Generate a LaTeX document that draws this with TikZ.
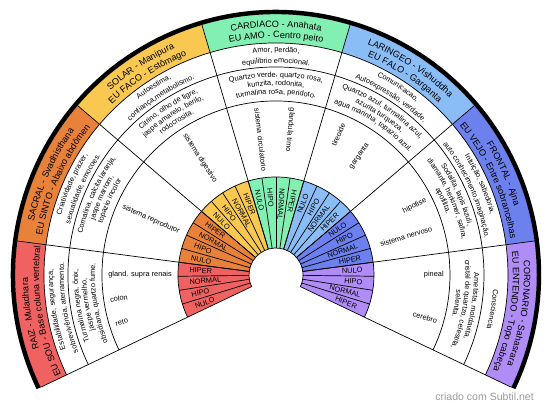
\documentclass[tikz,border=0pt]{standalone}
\usepackage{fontspec}
\setmainfont{Liberation Sans}
\usepackage{tikz}
\usetikzlibrary{decorations.text}
\definecolor{RaizRed}{HTML}{F06262}
\definecolor{SacralOrange}{HTML}{E8823A}
\definecolor{SolarYellow}{HTML}{F8C850}
\definecolor{CardiacoGreen}{HTML}{82F0B2}
\definecolor{LaringeoBlue}{HTML}{8ABCF6}
\definecolor{FrontalBlue}{HTML}{6C80EE}
\definecolor{CoronarioLilac}{HTML}{B08CF6}
\definecolor{FooterGray}{HTML}{9A9A9A}
\newcommand\bandfont{\fontsize{7.8}{9}\selectfont}
\newcommand\smallfont{\fontsize{6.3}{7}\selectfont}
% centre angle, baseline radius, font, text
\newcommand\arcline[4]{\path[decorate, decoration={text along path, text align=center, text={|#3|#4}}]
  (#1+25:#2) arc[start angle=#1+25, end angle=#1-25, radius=#2];}
\tikzstyle{lvl} = [font=\smallfont, inner sep=0pt]
\tikzstyle{organ} = [font=\smallfont, inner sep=0pt]
\tikzset{every picture/.style={line width=0.6pt}}

\begin{document}
\begin{tikzpicture}[x=0.03cm, y=0.03cm]
\useasboundingbox (-276,-133) rectangle (274,275);
% coloured bands and hub
\foreach \col [count=\k from 0] in {RaizRed, SacralOrange, SolarYellow, CardiacoGreen, LaringeoBlue, FrontalBlue, CoronarioLilac} {
  \pgfmathsetmacro\a{205.5-33*\k}
  \pgfmathsetmacro\b{\a-33}
  \fill[\col] (\a:232) arc[start angle=\a, end angle=\b, radius=232] -- (\b:261) arc[start angle=\b, end angle=\a, radius=261] -- cycle;
  \fill[\col] (\a:27) arc[start angle=\a, end angle=\b, radius=27] -- (\b:98) arc[start angle=\b, end angle=\a, radius=98] -- cycle;
}
% rings and spokes
\foreach \r in {27, 98, 174, 208, 232}
  \draw (205.5:\r) arc[start angle=205.5, end angle=-25.5, radius=\r];
\foreach \i in {0,...,7} {
  \pgfmathsetmacro\a{205.5-33*\i}
  \draw (\a:27) -- (\a:261);
}
\foreach \i in {1,...,27} {
  \pgfmathsetmacro\a{205.5-8.25*\i}
  \draw (\a:27) -- (\a:98);
}
\draw[line width=3.8pt] (205.5:263) arc[start angle=205.5, end angle=-25.5, radius=263];
% hub levels
\foreach \k in {0,...,6} {
  \foreach \l [count=\j from 0] in {NULO,HIPO,NORMAL,HIPER} {
    \pgfmathsetmacro\t{205.5-33*\k-8.25*\j-4.125}
    \ifnum\k<4
      \node[lvl, anchor=west, rotate=\t-180] (h\k\j) at (\t:87) {\l};
    \else
      \node[lvl, anchor=east, rotate=\t] (h\k\j) at (\t:87) {\l};
    \fi
  }
}
% RAIZ
\arcline{189}{248}{\bandfont}{RAIZ - Muladhara}
\arcline{189}{237}{\bandfont}{EU SOU - Base coluna vertebral}
\arcline{189}{223}{\smallfont}{Estabilidade, segurança,}
\arcline{189}{212}{\smallfont}{sobrevivência, aterramento.}
\arcline{189}{198}{\smallfont}{Turmalina negra, ônix,}
\arcline{189}{189.5}{\smallfont}{jaspe vermelho,}
\arcline{189}{181}{\smallfont}{obsidiana, quartzo fume.}
\node[organ, anchor=west, rotate=0] (glands) at (180:168) {gland. supra renais};
\node[organ, anchor=west, rotate=8.5] (colon) at (188.5:168) {colon};
\node[organ, anchor=west, rotate=17] (reto) at (197:168) {reto};
% SACRAL
\arcline{156}{248}{\bandfont}{SACRAL - Svadhisthana}
\arcline{156}{237}{\bandfont}{EU SINTO - Abaixo abdômen}
\arcline{156}{223}{\smallfont}{Criatividade, prazer,}
\arcline{156}{212}{\smallfont}{sexualidade, emocoes.}
\arcline{156}{198}{\smallfont}{Cornalina, calcita laranja,}
\arcline{156}{189.5}{\smallfont}{jaspe marrom,}
\arcline{156}{181}{\smallfont}{topazio incolor}
\node[organ, anchor=west, rotate=-24] (reprod) at (156:168) {sistema reprodutor};
% SOLAR
\arcline{123}{248}{\bandfont}{SOLAR - Manipura}
\arcline{123}{237}{\bandfont}{EU FACO - Estômago}
\arcline{123}{223}{\smallfont}{Autoestima,}
\arcline{123}{212}{\smallfont}{confiança,metabolismo.}
\arcline{123}{198}{\smallfont}{Citrino, olho de tigre,}
\arcline{123}{189.5}{\smallfont}{jaspe amarelo, berilo,}
\arcline{123}{181}{\smallfont}{rodocrosita.}
\node[organ, anchor=west, rotate=-57] (digest) at (123:168) {sistema digestivo};
% CARDIACO
\arcline{90}{248}{\bandfont}{CARDIACO - Anahata}
\arcline{90}{237}{\bandfont}{EU AMO - Centro peito}
\arcline{90}{223}{\smallfont}{Amor, perdão,}
\arcline{90}{212}{\smallfont}{equilibrio emocional.}
\arcline{90}{198}{\smallfont}{Quartzo verde, quartzo rosa,}
\arcline{90}{189.5}{\smallfont}{kunzita, rodonita,}
\arcline{90}{181}{\smallfont}{turmalina rosa, peridoto.}
\node[organ, anchor=west, rotate=-83.5] (circul) at (96.5:168) {sistema circulatorio};
\node[organ, anchor=west, rotate=-95.5] (timo) at (84.5:168) {glandula timo};
% LARINGEO
\arcline{57}{248}{\bandfont}{LARINGEO - Vishuddha}
\arcline{57}{237}{\bandfont}{EU FALO - Garganta}
\arcline{57}{223}{\smallfont}{Comunicacao,}
\arcline{57}{212}{\smallfont}{Autoexpressão, verdade.}
\arcline{57}{198}{\smallfont}{Quartzo azul, turmalina azul,}
\arcline{57}{189.5}{\smallfont}{azurita turqueza,}
\arcline{57}{181}{\smallfont}{agua marinha, topazio azul.}
\node[organ, anchor=east, rotate=66] (tireo) at (66:166) {tireoide};
\node[organ, anchor=east, rotate=55] (garg) at (55:160) {garganta};
% FRONTAL
\arcline{24}{248}{\bandfont}{FRONTAL - Ajna}
\arcline{24}{237}{\bandfont}{EU VEJO - Entre sobrancelhas}
\arcline{24}{223}{\smallfont}{Intuição, sabedoria,}
\arcline{24}{212}{\smallfont}{auto conhecimento,imaginação.}
\arcline{24}{198}{\smallfont}{Sodalita, lapis lazuli,}
\arcline{24}{189.5}{\smallfont}{diamante, herkimer, safira,}
\arcline{24}{181}{\smallfont}{apofilita.}
\node[organ, anchor=east, rotate=26.5] (hipof) at (26.5:168) {hipofise};
\node[organ, anchor=east, rotate=16.5] (nervo) at (16.5:163) {sistema nervoso};
% CORONARIO
\arcline{-9}{248}{\bandfont}{CORONARIO - Sahasrara}
\arcline{-9}{237}{\bandfont}{EU ENTENDO - Topo cabeça}
\arcline{-9}{217.5}{\smallfont}{Consciencia}
\arcline{-9}{198}{\smallfont}{Ametista, moldavita,}
\arcline{-9}{189.5}{\smallfont}{cristal de quartzo, celestita,}
\arcline{-9}{181}{\smallfont}{selenita.}
\node[organ, anchor=east, rotate=0] (pineal) at (0:168) {pineal};
\node[organ, anchor=east, rotate=-16] (cereb) at (-16:168) {cerebro};
\node[text=FooterGray, font=\fontsize{9}{10}\selectfont, anchor=east] (credit) at (262,-122) {criado com Subtil.net};
\end{tikzpicture}
\end{document}
